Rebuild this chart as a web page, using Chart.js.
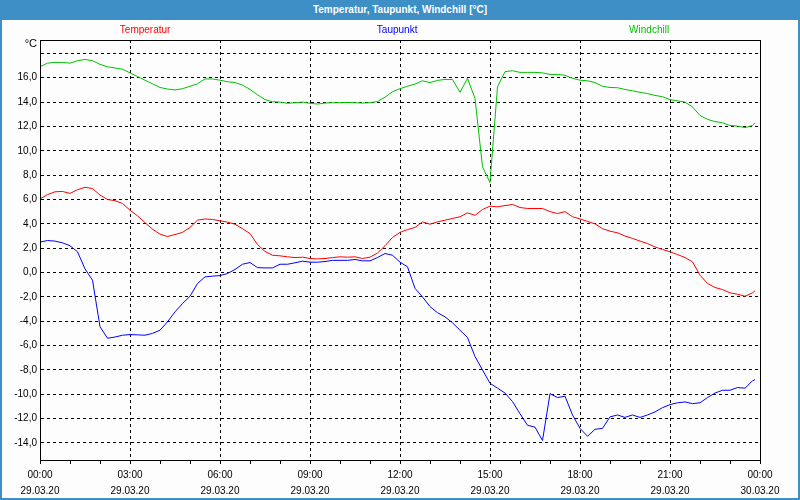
<!DOCTYPE html>
<html>
<head>
<meta charset="utf-8">
<script src="https://cdn.jsdelivr.net/npm/chart.js@4.4.1/dist/chart.umd.min.js"></script>
<style>
  html, body { margin: 0; padding: 0; background: #fff; }
  #frame { position: relative; width: 800px; height: 500px; box-sizing: border-box; border: 2px solid #3d8fc6; background: #fcfdfc; overflow: hidden; }
  #bar { position: absolute; left: 0; top: 0; right: 0; height: 18px; background: #3d8fc6; color: #fff; font: bold 10px "Liberation Sans", Arial, sans-serif; text-align: center; line-height: 16px; z-index: 2; }
  #chart { position: absolute; left: -2px; top: -2px; }
</style>
</head>
<body>
<div id="frame">
  <div id="bar">Temperatur, Taupunkt, Windchill [°C]</div>
  <canvas id="chart" width="800" height="500"></canvas>
</div>
<script>
// sample times in hours since 29.03.20 00:00 (15 min steps, last sample 23:50)
const hours = [...Array(96)].map((_, i) => i / 4).concat([23 + 50 / 60]);

const temperatur = [
  6.05, 6.4, 6.63, 6.66, 6.5, 6.8, 7.0, 6.9, 6.36, 6.0, 5.9, 5.67, 5.12, 4.66, 4.1, 3.56, 3.15, 2.96, 3.12, 3.3, 3.7, 4.3, 4.4, 4.36, 4.25,
  4.14, 3.97, 3.6, 3.2, 2.3, 1.73, 1.42, 1.37, 1.29, 1.23, 1.26, 1.15, 1.12, 1.15, 1.23, 1.29, 1.26, 1.29, 1.15, 1.26, 1.6, 2.2, 2.88, 3.3,
  3.53, 3.7, 4.16, 3.97, 4.16, 4.3, 4.44, 4.58, 4.9, 4.7, 5.18, 5.45, 5.4, 5.5, 5.59, 5.34, 5.26, 5.26, 5.26, 5.0, 4.85, 5.0, 4.58, 4.4,
  4.2, 4.0, 3.6, 3.4, 3.26, 3.0, 2.8, 2.58, 2.38, 2.1, 1.89, 1.7, 1.48, 1.23, 0.88, -0.22, -0.9, -1.23, -1.4, -1.67, -1.78, -1.95, -1.67, -1.5
];
const taupunkt = [
  2.5, 2.63, 2.58, 2.44, 2.2, 1.7, 0.3, -0.63, -4.45, -5.4, -5.3, -5.15, -5.1, -5.12, -5.15, -5.0, -4.74, -4.05, -3.23, -2.55, -1.95, -0.9, -0.36, -0.3, -0.25,
  -0.08, 0.25, 0.68, 0.82, 0.4, 0.38, 0.38, 0.68, 0.68, 0.8, 0.93, 0.85, 0.85, 0.9, 1.0, 1.0, 1.0, 1.07, 0.96, 0.96, 1.23, 1.56, 1.42, 0.85,
  0.47, -1.3, -2.0, -2.8, -3.3, -3.64, -4.13, -4.74, -5.34, -6.9, -8.0, -9.1, -9.5, -9.9, -10.6, -11.6, -12.55, -12.7, -13.8, -9.95, -10.27, -10.16, -11.7, -12.8,
  -13.45, -12.88, -12.8, -11.86, -11.7, -11.9, -11.7, -11.9, -11.7, -11.45, -11.1, -10.85, -10.7, -10.63, -10.77, -10.7, -10.27, -9.9, -9.67, -9.67, -9.45, -9.5, -8.9, -8.8
];
const windchill = [
  16.9, 17.2, 17.26, 17.26, 17.2, 17.4, 17.5, 17.4, 17.1, 16.9, 16.8, 16.7, 16.4, 16.1, 15.8, 15.5, 15.2, 15.07, 15.0, 15.1, 15.3, 15.5, 15.9, 15.9, 15.8,
  15.67, 15.6, 15.4, 15.04, 14.6, 14.2, 14.03, 14.0, 13.9, 13.95, 14.0, 13.9, 13.84, 13.92, 13.95, 13.95, 13.97, 13.95, 13.92, 13.95, 14.05, 14.4, 14.85, 15.1,
  15.3, 15.48, 15.75, 15.6, 15.78, 15.86, 15.86, 14.8, 15.95, 14.3, 8.68, 7.4, 15.26, 16.5, 16.58, 16.44, 16.44, 16.44, 16.4, 16.27, 16.27, 16.2, 15.95, 15.8,
  15.75, 15.6, 15.3, 15.2, 15.18, 15.04, 14.93, 14.8, 14.7, 14.55, 14.44, 14.2, 14.1, 14.0, 13.6, 12.9, 12.58, 12.4, 12.3, 12.08, 12.03, 11.9, 12.08, 12.3
];

const seriesNames = ['Temperatur', 'Taupunkt', 'Windchill'];
const seriesColors = ['#ff0000', '#0000ff', '#00c000'];

const yTicks = [-14, -12, -10, -8, -6, -4, -2, 0, 2, 4, 6, 8, 10, 12, 14, 16, 18];
const xTicks = [...Array(25)].map((_, i) => i);
const xTimeLabels = ['00:00', '03:00', '06:00', '09:00', '12:00', '15:00', '18:00', '21:00', '00:00'];
const xDateLabels = ['29.03.20', '29.03.20', '29.03.20', '29.03.20', '29.03.20', '29.03.20', '29.03.20', '29.03.20', '30.03.20'];

const FONT = '"Liberation Sans", Arial, sans-serif';

function pts(values){ return values.map((v, i) => ({ x: hours[i], y: v })); }

// series names as coloured text above the plot, plus the unit and the plot box
const decor = {
  id: 'decor',
  afterDraw(chart){
    const { ctx, chartArea: a } = chart;
    ctx.save();
    ctx.font = '10px ' + FONT;
    ctx.textAlign = 'center';
    ctx.textBaseline = 'middle';
    seriesNames.forEach((n, i) => {
      ctx.fillStyle = seriesColors[i];
      ctx.fillText(n, a.left + (a.right - a.left) * (0.146 + 0.35 * i), 30);
    });
    ctx.fillStyle = '#000';
    ctx.font = '11px ' + FONT;
    ctx.textAlign = 'right';
    ctx.fillText('°C', a.left - 3, a.top + 4);
    ctx.strokeStyle = '#000';
    ctx.lineWidth = 1;
    ctx.strokeRect(Math.round(a.left) + 0.5, Math.round(a.top) + 0.5, Math.round(a.right - a.left), Math.round(a.bottom - a.top));
    ctx.restore();
  }
};

new Chart(document.getElementById('chart'), {
  type: 'line',
  data: {
    datasets: [
      { label: seriesNames[0], data: pts(temperatur), borderColor: seriesColors[0] },
      { label: seriesNames[1], data: pts(taupunkt), borderColor: seriesColors[1] },
      { label: seriesNames[2], data: pts(windchill), borderColor: seriesColors[2] }
    ]
  },
  options: {
    responsive: false,
    animation: false,
    layout: { padding: { top: 40, right: 40, left: 0, bottom: 0 } },
    elements: { line: { borderWidth: 1, tension: 0 }, point: { radius: 0 } },
    plugins: { legend: { display: false }, tooltip: { enabled: false } },
    scales: {
      x: {
        type: 'linear', min: 0, max: 24,
        afterBuildTicks: s => { s.ticks = xTicks.map(v => ({ value: v })); },
        afterFit: s => { s.height = 40; },
        ticks: {
          autoSkip: false, maxRotation: 0, minRotation: 0, padding: 3, color: '#000',
          font: { family: FONT, size: 10, lineHeight: 1.6 },
          callback: v => v % 3 === 0 ? [xTimeLabels[v / 3], xDateLabels[v / 3]] : ''
        },
        grid: {
          color: c => (c.tick && c.tick.value % 3 === 0) ? '#000' : 'rgba(0,0,0,0)',
          tickColor: '#000', tickLength: 4, tickBorderDash: []
        },
        border: { color: '#000', width: 1, dash: [3, 3] }
      },
      y: {
        min: -15.4, max: 19.1,
        afterBuildTicks: s => { s.ticks = yTicks.map(v => ({ value: v })); },
        afterFit: s => { s.width = 40; },
        ticks: {
          padding: 3, color: '#000',
          font: { family: FONT, size: 10 },
          callback: v => v === 18 ? '' : v.toFixed(1).replace('.', ',')
        },
        grid: { color: '#000', drawTicks: false },
        border: { color: '#000', width: 1, dash: [3, 3] }
      }
    }
  },
  plugins: [decor]
});
</script>
</body>
</html>
